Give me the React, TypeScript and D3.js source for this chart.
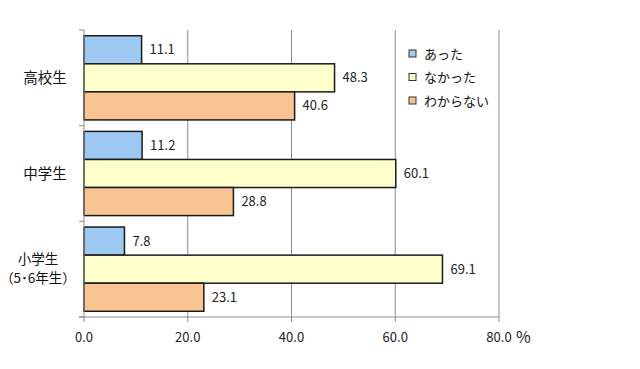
import React from 'react'
import * as d3 from 'd3'

const categories = ['高校生', '中学生', '小学生']
const categoryLines = [['高校生'], ['中学生'], ['小学生', '（5･6年生）']]
const seriesNames = ['あった', 'なかった', 'わからない']
const seriesColors = ['#9dc9f3', '#ffffcc', '#fac392']
const valuesAtta = [11.1, 11.2, 7.8]
const valuesNakatta = [48.3, 60.1, 69.1]
const valuesWakaranai = [40.6, 28.8, 23.1]
const xTicks = [0, 20, 40, 60, 80]

const series = [valuesAtta, valuesNakatta, valuesWakaranai]
const font = '"Noto Sans CJK JP", "Noto Sans", sans-serif'

export default function App() {
  const width = 640
  const height = 369
  const left = 84
  const right = 499
  const top = 30
  const bottom = 317

  const x = d3.scaleLinear().domain([0, 80]).range([left, right])
  const y = d3.scaleBand<string>().domain(categories).range([top, bottom]).paddingInner(0.12).paddingOuter(0.06)
  const bandStep = (bottom - top) / categories.length
  const inner = d3.scaleBand<number>().domain([0, 1, 2]).range([0, y.bandwidth()])

  return (
    <svg width={width} height={height} style={{ display: 'block', position: 'absolute', left: 0, top: 0, background: '#fff' }}>
      {/* vertical grid */}
      {xTicks.slice(1).map((t) => (
        <line key={'g' + t} x1={x(t)} x2={x(t)} y1={top} y2={bottom} stroke="#8c8c8c" strokeWidth={1} />
      ))}
      {/* bars */}
      {categories.map((c, ci) => (
        <g key={c} transform={`translate(0, ${y(c)})`}>
          {series.map((vals, si) => (
            <g key={si}>
              <rect
                x={x(0)}
                y={inner(si)}
                width={x(vals[ci]) - x(0)}
                height={inner.bandwidth()}
                fill={seriesColors[si]}
                stroke="#1a1a1a"
                strokeWidth={1.5}
              />
              <text
                x={x(vals[ci]) + 8}
                y={(inner(si) as number) + inner.bandwidth() / 2}
                dy="0.35em"
                fontSize={13}
                fontFamily={font}
                fill="#222"
              >
                {vals[ci].toFixed(1)}
              </text>
            </g>
          ))}
        </g>
      ))}
      {/* axes */}
      <line x1={left} x2={left} y1={top} y2={bottom} stroke="#8c8c8c" />
      {d3.range(categories.length + 1).map((i) => (
        <line key={'yt' + i} x1={left - 5} x2={left} y1={top + i * bandStep} y2={top + i * bandStep} stroke="#8c8c8c" />
      ))}
      <line x1={left - 5} x2={right} y1={bottom} y2={bottom} stroke="#8c8c8c" />
      {xTicks.map((t) => (
        <g key={'xt' + t}>
          <line x1={x(t)} x2={x(t)} y1={bottom} y2={bottom + 5} stroke="#8c8c8c" />
          <text x={x(t)} y={337} dy="0.35em" textAnchor="middle" fontSize={13} fontFamily={font} fill="#222">
            {t.toFixed(1)}
          </text>
        </g>
      ))}
      <text x={x(80) + 17} y={337} dy="0.35em" fontSize={16} fontFamily={font} fill="#222">%</text>
      {/* category labels */}
      {categories.map((c, ci) => {
        const lines = categoryLines[ci]
        const cy = top + ci * bandStep + bandStep / 2
        return (
          <text key={'cl' + c} textAnchor="middle" fontSize={lines.length > 1 ? 13.5 : 14.5} fontFamily={font} fill="#111">
            {lines.map((l, li) => (
              <tspan key={li} x={lines.length > 1 ? 38 : 45} y={cy + (li - (lines.length - 1) / 2) * 19} dy="0.35em">
                {l}
              </tspan>
            ))}
          </text>
        )
      })}
      {/* legend */}
      {seriesNames.map((n, i) => (
        <g key={n} transform={`translate(409, ${54 + i * 23.5})`}>
          <rect x={0} y={-4} width={7} height={7} fill={seriesColors[i]} stroke="#333" strokeWidth={1} />
          <text x={15} y={0} dy="0.35em" fontSize={13} fontFamily={font} fill="#111">{n}</text>
        </g>
      ))}
    </svg>
  )
}
